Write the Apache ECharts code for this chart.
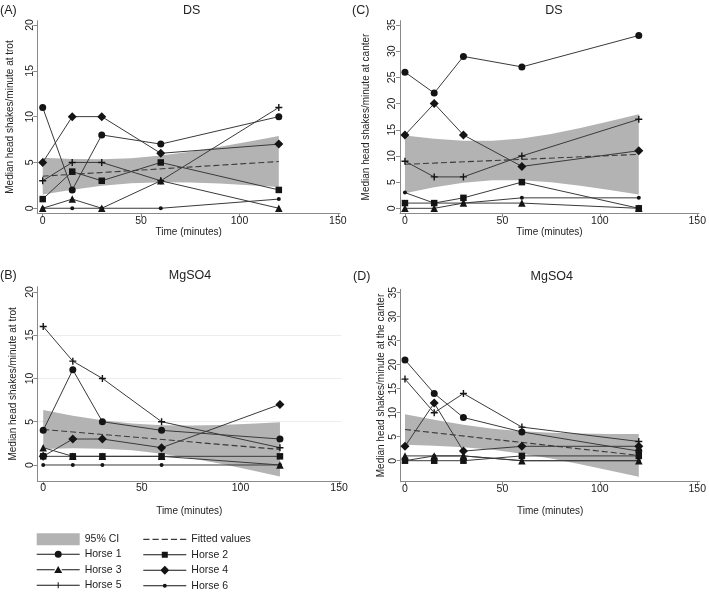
<!DOCTYPE html>
<html><head><meta charset="utf-8">
<script src="https://cdn.jsdelivr.net/npm/echarts@6/dist/echarts.min.js"></script>
<style>html,body{margin:0;padding:0;background:#fff}#c{width:709px;height:592px}</style>
</head><body><div id="c"></div>
<script>
// ---------- DATA ----------
const times = [0, 15, 30, 60, 120];
const horseNames = ['Horse 1', 'Horse 2', 'Horse 3', 'Horse 4', 'Horse 5', 'Horse 6'];
const xTicks = [0, 50, 100, 150];
const yTicksTrot = [0, 5, 10, 15, 20];
const yTicksCanter = [0, 5, 10, 15, 20, 25, 30, 35];
const fitTimes = [0, 120];
const ciTimes = [0, 15, 30, 45, 60, 75, 90, 105, 120];

// (A) DS, trot
const A_h1 = [11, 2, 8, 7, 10];
const A_h2 = [1, 4, 3, 5, 2];
const A_h3 = [0, 1, 0, 3, 0];
const A_h4 = [5, 10, 10, 6, 7];
const A_h5 = [3, 5, 5, 3, 11];
const A_h6 = [0, 0, 0, 0, 1];
const A_fit = [3.5, 5.1];
const A_lo = [1.50, 2.02, 2.45, 2.73, 2.85, 2.82, 2.70, 2.52, 2.31];
const A_hi = [5.50, 5.38, 5.35, 5.47, 5.75, 6.18, 6.70, 7.28, 7.89];

// (B) MgSO4, trot
const B_h1 = [4, 11, 5, 4, 3];
const B_h2 = [1, 1, 1, 1, 1];
const B_h3 = [2, 1, 1, 1, 0];
const B_h4 = [1, 3, 3, 2, 7];
const B_h5 = [16, 12, 10, 5, 2];
const B_h6 = [0, 0, 0, 0, 0];
const B_fit = [4.1, 1.8];
const B_lo = [1.85, 1.92, 1.89, 1.70, 1.31, 0.77, 0.13, -0.59, -1.34];
const B_hi = [6.35, 5.70, 5.17, 4.78, 4.59, 4.55, 4.63, 4.77, 4.94];

// (C) DS, canter
const C_h1 = [26, 22, 29, 27, 33];
const C_h2 = [1, 1, 2, 5, 0];
const C_h3 = [0, 0, 1, 1, 0];
const C_h4 = [14, 20, 14, 8, 11];
const C_h5 = [9, 6, 6, 10, 17];
const C_h6 = [3, 1, 1, 2, 2];
const C_fit = [8.4, 10.3];
const C_lo = [2.90, 4.02, 4.88, 5.34, 5.35, 4.97, 4.33, 3.52, 2.63];
const C_hi = [13.90, 13.26, 12.88, 12.88, 13.35, 14.21, 15.33, 16.60, 17.97];

// (D) MgSO4, canter
const D_h1 = [21, 14, 9, 6, 2];
const D_h2 = [0, 0, 0, 1, 1];
const D_h3 = [1, 1, 1, 0, 0];
const D_h4 = [3, 12, 2, 3, 3];
const D_h5 = [17, 10, 14, 7, 4];
const D_h6 = [0, 1, 1, 0, 0];
const D_fit = [6.5, 1.1];
const D_lo = [3.30, 3.14, 2.82, 2.28, 1.47, 0.44, -0.75, -2.02, -3.36];
const D_hi = [9.70, 8.52, 7.48, 6.68, 6.13, 5.82, 5.65, 5.58, 5.56];

// ---------- STYLE ----------
const FONT = 'Liberation Sans, Arial, sans-serif';
const LINE_C = '#3a3a3a', MARK_C = '#141414', AXIS_C = '#8a8a8a', TEXT_C = '#222', CI_C = '#b3b3b3';
const plusPath = 'path://M2,0h1v2h2v1h-2v2h-1v-2h-2v-1h2z';
const symbols = ['circle', 'rect', 'triangle', 'diamond', plusPath, 'circle'];
const symbolSizes = [7, 6.5, 7.5, 9, 7, 4];

// legend icons (43 x 10 box): line + marker
const BOX = 'M0,0h0.01v0.01h-0.01z M42.99,9.99h0.01v0.01h-0.01z ';
function lineIcon(gapL, gapR, marker) {
  return 'path://' + BOX + 'M0,4.5h' + gapL + 'v1h-' + gapL + 'z M' + gapR + ',4.5h' + (43 - gapR) + 'v1h-' + (43 - gapR) + 'z ' + marker;
}
const legendIcons = [
  lineIcon(18.2, 24.8, 'M18,5a3.5,3.5 0 1,1 7,0a3.5,3.5 0 1,1 -7,0z'),
  lineIcon(18.6, 24.4, 'M18.5,2h6v6h-6z'),
  lineIcon(18, 25, 'M21.5,1.3L25.5,8.2H17.5z'),
  lineIcon(17.3, 25.7, 'M21.5,0.5L26,5L21.5,9.5L17,5z'),
  lineIcon(21, 22, 'M21,2h1v6h-1z M20,4.5h3v1h-3z'),
  lineIcon(19.6, 23.4, 'M19.5,5a2,2 0 1,1 4,0a2,2 0 1,1 -4,0z')
];
const dashIcon = 'path://' + BOX + 'M0,4.4h6.2v1.2h-6.2z M9.2,4.4h6.2v1.2h-6.2z M18.4,4.4h6.2v1.2h-6.2z M27.6,4.4h6.2v1.2h-6.2z M36.8,4.4h6.2v1.2h-6.2z';

const panels = [
  { h: [A_h1, A_h2, A_h3, A_h4, A_h5, A_h6], fit: A_fit, lo: A_lo, hi: A_hi, yt: yTicksTrot,
    grid: { left: 37.3, top: 20.7, width: 302.7, height: 192.6 }, xr: [-2.75, 151.1], yr: [-0.55, 20.47],
    yname: 'Median head shakes/minute at trot', ygap: 22, xgap: 13, grid_lines: false },
  { h: [B_h1, B_h2, B_h3, B_h4, B_h5, B_h6], fit: B_fit, lo: B_lo, hi: B_hi, yt: yTicksTrot,
    grid: { left: 37.3, top: 286.7, width: 304, height: 194.3 }, xr: [-3.0, 151.1], yr: [-1.85, 20.6],
    yname: 'Median head shakes/minute at trot', ygap: 19, xgap: 25, grid_lines: true },
  { h: [C_h1, C_h2, C_h3, C_h4, C_h5, C_h6], fit: C_fit, lo: C_lo, hi: C_hi, yt: yTicksCanter,
    grid: { left: 400, top: 20.7, width: 301, height: 192.6 }, xr: [-2.55, 150.9], yr: [-0.95, 35.82],
    yname: 'Median head shakes/minute at canter', ygap: 29, xgap: 13, grid_lines: false },
  { h: [D_h1, D_h2, D_h3, D_h4, D_h5, D_h6], fit: D_fit, lo: D_lo, hi: D_hi, yt: yTicksCanter,
    grid: { left: 400.7, top: 289.3, width: 300.1, height: 192.4 }, xr: [-2.2, 151.3], yr: [-4.37, 35.7],
    yname: 'Median head shakes/minute at the canter', ygap: 14, xgap: 25, grid_lines: false }
];

function bandRenderer(lo, hi) {
  return function (params, api) {
    if (params.dataIndex !== 0) return null;
    const pts = [];
    for (let k = 0; k < ciTimes.length; k++) pts.push(api.coord([ciTimes[k], hi[k]]));
    for (let k = ciTimes.length - 1; k >= 0; k--) pts.push(api.coord([ciTimes[k], lo[k]]));
    return { type: 'polygon', shape: { points: pts }, style: { fill: CI_C, stroke: null } };
  };
}

const grids = [], xAxes = [], yAxes = [], series = [];
panels.forEach((p, i) => {
  grids.push(Object.assign({ containLabel: false }, p.grid));
  xAxes.push({
    gridIndex: i, type: 'value', min: p.xr[0], max: p.xr[1],
    axisLine: { onZero: false, lineStyle: { color: AXIS_C, width: 1 } },
    axisTick: { customValues: xTicks, length: 4, lineStyle: { color: AXIS_C } },
    axisLabel: { customValues: xTicks, fontSize: 10.5, color: TEXT_C, margin: 2, fontFamily: FONT },
    splitLine: { show: false },
    name: 'Time (minutes)', nameLocation: 'middle', nameGap: p.xgap,
    nameTextStyle: { fontSize: 10, color: TEXT_C, fontFamily: FONT }
  });
  yAxes.push({
    gridIndex: i, type: 'value', min: p.yr[0], max: p.yr[1],
    axisLine: { onZero: false, lineStyle: { color: AXIS_C, width: 1 } },
    axisTick: { customValues: p.yt, length: 4, lineStyle: { color: AXIS_C } },
    axisLabel: { customValues: p.yt, fontSize: 10.5, color: TEXT_C, margin: 2, rotate: 90, fontFamily: FONT },
    splitLine: { show: false },
    name: p.yname, nameLocation: 'middle', nameGap: p.ygap,
    nameTextStyle: { fontSize: 10, color: TEXT_C, fontFamily: FONT }
  });
  series.push({
    type: 'custom', name: '95% CI', xAxisIndex: i, yAxisIndex: i,
    data: ciTimes.map((t, k) => [t, p.lo[k], p.hi[k]]),
    encode: { x: 0, y: [1, 2] },
    renderItem: bandRenderer(p.lo, p.hi),
    itemStyle: { color: CI_C }, silent: true, z: 1
  });
  const fitSeries = {
    type: 'line', name: 'Fitted values', xAxisIndex: i, yAxisIndex: i,
    data: fitTimes.map((t, k) => [t, p.fit[k]]), symbol: 'none',
    lineStyle: { color: LINE_C, width: 1.1, type: [6, 3] }, itemStyle: { color: LINE_C }, z: 3, silent: true
  };
  if (p.grid_lines) {
    fitSeries.markLine = {
      silent: true, symbol: 'none', label: { show: false },
      lineStyle: { color: '#ececec', width: 1, type: 'solid' },
      data: [{ yAxis: 5 }, { yAxis: 10 }, { yAxis: 15 }], z: 0
    };
  }
  series.push(fitSeries);
  p.h.forEach((vals, j) => {
    series.push({
      type: 'line', name: horseNames[j], xAxisIndex: i, yAxisIndex: i,
      data: times.map((t, k) => [t, vals[k]]),
      symbol: symbols[j], symbolSize: symbolSizes[j],
      lineStyle: { color: LINE_C, width: 1 }, itemStyle: { color: MARK_C }, z: 4, silent: true
    });
  });
});

const legendText = { fontSize: 10.5, color: TEXT_C, fontFamily: FONT, lineHeight: 13 };
const hItem = j => ({ name: horseNames[j], icon: legendIcons[j] });
const legends = [
  { data: [{ name: '95% CI', icon: 'rect' }], left: 36.7, top: 533.3, itemWidth: 43, itemHeight: 12,
    padding: 0, selectedMode: false, textStyle: Object.assign({}, legendText, { lineHeight: 12 }), itemStyle: { borderWidth: 0 } },
  { data: [hItem(0), hItem(2), hItem(4)], orient: 'vertical', left: 36.7, top: 547.8, height: 80, itemWidth: 43, itemHeight: 10,
    itemGap: 2.5, padding: 0, selectedMode: false, textStyle: legendText, itemStyle: { borderWidth: 0 } },
  { data: [{ name: 'Fitted values', icon: dashIcon }, hItem(1), hItem(3), hItem(5)], orient: 'vertical', left: 143.3, top: 532.8, height: 80,
    itemWidth: 43, itemHeight: 10, itemGap: 2.5, padding: 0, selectedMode: false, textStyle: legendText, itemStyle: { borderWidth: 0 } }
];

const titleStyle = { fontSize: 12.5, fontWeight: 'normal', color: TEXT_C, fontFamily: FONT };
const titles = [
  { text: '(A)', left: 0, top: 4.5 }, { text: 'DS', left: 191.7, top: 4.5, textAlign: 'center' },
  { text: '(C)', left: 352, top: 4.5 }, { text: 'DS', left: 554, top: 4.5, textAlign: 'center' },
  { text: '(B)', left: 0, top: 269.5 }, { text: 'MgSO4', left: 190, top: 269.5, textAlign: 'center' },
  { text: '(D)', left: 353, top: 270.5 }, { text: 'MgSO4', left: 551.7, top: 270.5, textAlign: 'center' }
].map(t => Object.assign({ padding: 0, textStyle: titleStyle }, t));

const chart = echarts.init(document.getElementById('c'), null, { renderer: 'canvas' });
chart.setOption({
  animation: false, backgroundColor: '#fff',
  title: titles, legend: legends, grid: grids, xAxis: xAxes, yAxis: yAxes, series: series
});
</script></body></html>
